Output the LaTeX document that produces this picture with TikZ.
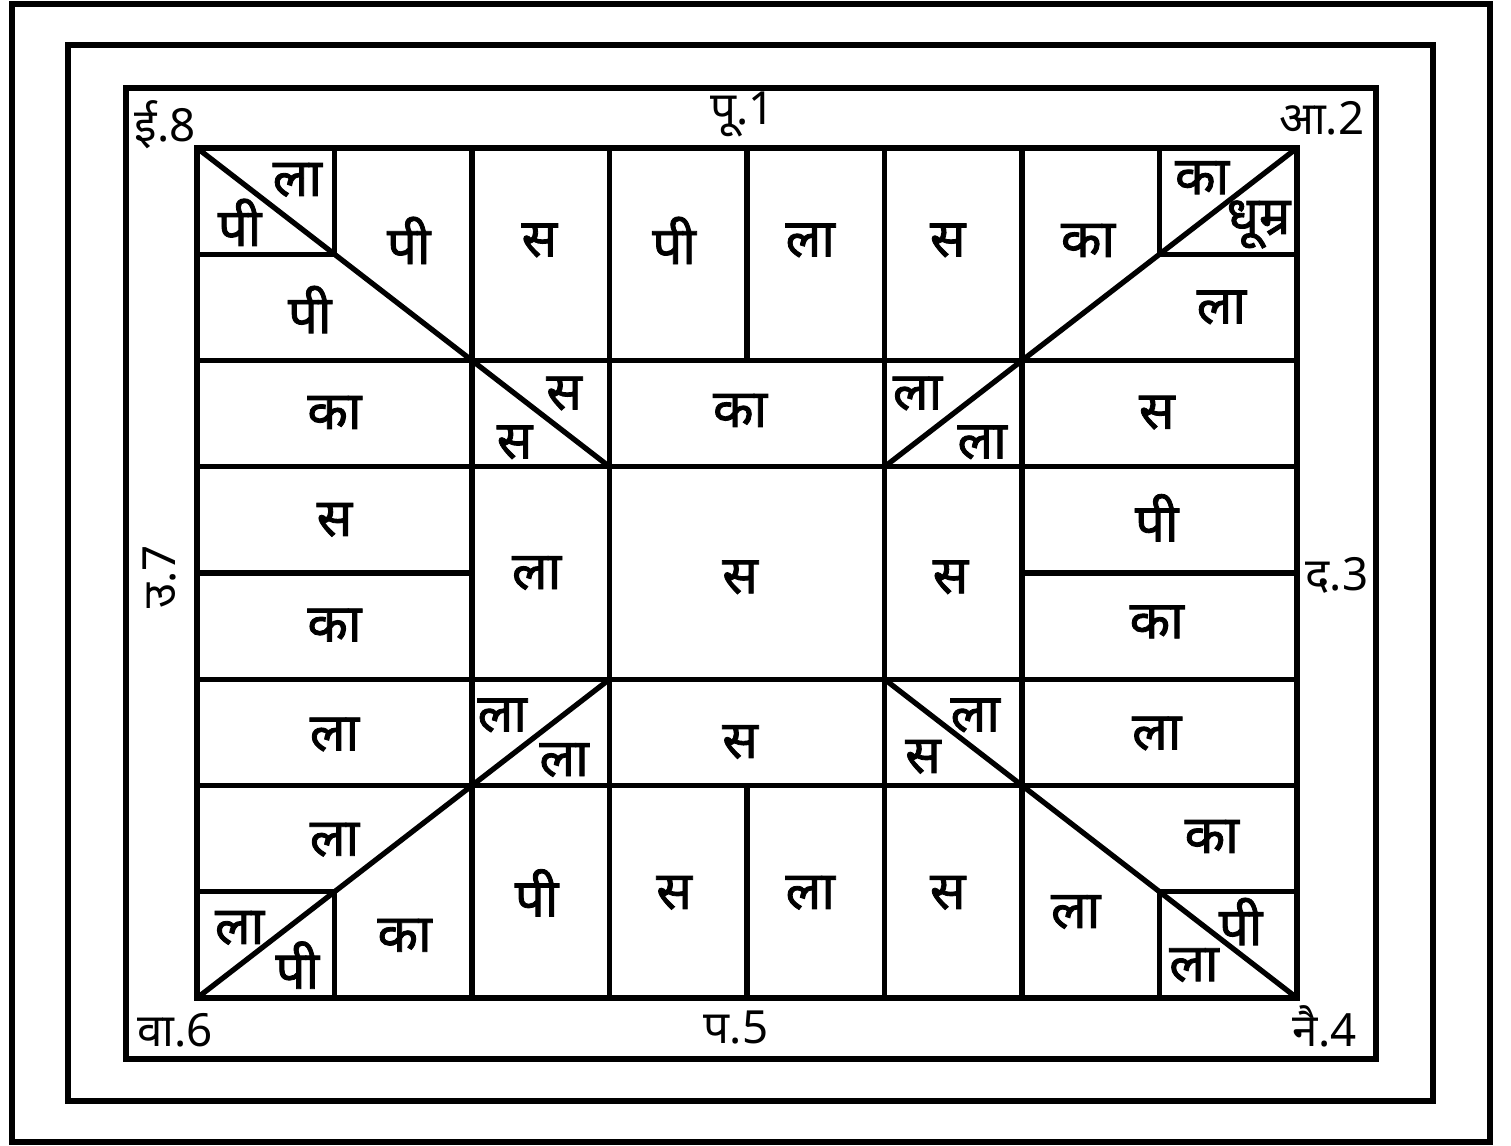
\documentclass[tikz,border=0pt]{standalone}
\usepackage{fontspec}
\newfontfamily\devfont[Script=Devanagari]{Noto Sans}
\newfontfamily\devbold[Script=Devanagari, FakeBold=1.6]{Noto Sans}

\begin{document}
\begin{tikzpicture}[
    frame/.style={line width=1.7pt},
    gridline/.style={line width=1.5pt},
    cell/.style={font=\devbold\fontsize{15}{17}\selectfont, inner sep=0pt},
    dir/.style={font=\devfont\fontsize{13}{15}\selectfont, inner sep=0pt}
  ]
  \useasboundingbox (0,0) rectangle (15.11,11.45);

  % three frames
  \draw[frame] (0.12,0.03) rectangle (14.90,11.41);
  \draw[frame] (0.68,0.44) rectangle (14.33,11.00);
  \draw[frame] (1.26,0.86) rectangle (13.76,10.57);

  \begin{scope}[shift={(1.97,1.47)}, x=1.375cm, y=1.0625cm]
    \draw[gridline] (0,0) rectangle (8,8);
    \foreach \k in {2,3,5,6} {
      \draw[gridline] (0,\k) -- (8,\k);
      \draw[gridline] (\k,0) -- (\k,8);
    }
    \foreach \a/\b in {0/1, 7/8} {
      \draw[gridline] (\a,7) -- (\b,7);
      \draw[gridline] (\a,1) -- (\b,1);
      \draw[gridline] (1,\a) -- (1,\b);
      \draw[gridline] (7,\a) -- (7,\b);
    }
    \draw[gridline] (0,4) -- (2,4) (6,4) -- (8,4);
    \draw[gridline] (4,6) -- (4,8) (4,0) -- (4,2);
    % corner diagonals
    \draw[gridline] (0,8) -- (3,5);
    \draw[gridline] (8,8) -- (5,5);
    \draw[gridline] (0,0) -- (3,3);
    \draw[gridline] (8,0) -- (5,3);

    % directions
    \node[dir] (ish)  at (-0.23,8.22) {ई.8};
    \node[dir] (purv) at (3.97,8.32) {पू.1};
    \node[dir] (agni) at (8.18,8.28) {आ.2};
    \node[dir] (dakh) at (8.29,3.98) {द.3};
    \node[dir] (nair) at (8.20,-0.27) {नै.4};
    \node[dir] (pash) at (3.92,-0.28) {प.5};
    \node[dir] (vayu) at (-0.16,-0.30) {वा.6};
    \node[dir, rotate=90] (uttr) at (-0.27,3.96) {उ.7};

    % top row
    \node[cell] (tl-a) at (0.73,7.70) {ला};
    \node[cell] (tl-b) at (0.31,7.30) {पी};
    \node[cell] (t1) at (1.54,7.13) {पी};
    \node[cell] (t2) at (2.49,7.13) {स};
    \node[cell] (t3) at (3.47,7.13) {पी};
    \node[cell] (t4) at (4.46,7.13) {ला};
    \node[cell] (t5) at (5.46,7.13) {स};
    \node[cell] (t6) at (6.48,7.13) {का};
    \node[cell] (tr-a) at (7.31,7.72) {का};
    \node[cell] (tr-b) at (7.72,7.28) {धूम्र};

    % left column
    \node[cell] (l1) at (0.82,6.48) {पी};
    \node[cell] (l2) at (1.00,5.51) {का};
    \node[cell] (l3) at (1.00,4.50) {स};
    \node[cell] (l4) at (1.00,3.51) {का};
    \node[cell] (l5) at (1.00,2.48) {ला};
    \node[cell] (l6) at (1.00,1.49) {ला};

    % right column
    \node[cell] (r1) at (7.45,6.50) {ला};
    \node[cell] (r2) at (6.98,5.51) {स};
    \node[cell] (r3) at (6.98,4.52) {पी};
    \node[cell] (r4) at (6.98,3.54) {का};
    \node[cell] (r5) at (6.98,2.49) {ला};
    \node[cell] (r6) at (7.38,1.52) {का};

    % bottom row
    \node[cell] (bl-a) at (0.31,0.66) {ला};
    \node[cell] (bl-b) at (0.73,0.31) {पी};
    \node[cell] (b1) at (1.51,0.59) {का};
    \node[cell] (b2) at (2.47,0.99) {पी};
    \node[cell] (b3) at (3.47,0.99) {स};
    \node[cell] (b4) at (4.46,0.99) {ला};
    \node[cell] (b5) at (5.46,0.99) {स};
    \node[cell] (b6) at (6.39,0.81) {ला};
    \node[cell] (br-a) at (7.59,0.72) {पी};
    \node[cell] (br-b) at (7.25,0.31) {ला};

    % inner ring
    \node[cell] (m1-a) at (2.67,5.69) {स};
    \node[cell] (m1-b) at (2.31,5.23) {स};
    \node[cell] (m2) at (3.95,5.53) {का};
    \node[cell] (m3-a) at (5.24,5.69) {ला};
    \node[cell] (m3-b) at (5.71,5.23) {ला};
    \node[cell] (m4) at (2.47,4.00) {ला};
    \node[cell] (m5) at (5.48,3.96) {स};
    \node[cell] (m6-a) at (2.22,2.66) {ला};
    \node[cell] (m6-b) at (2.67,2.24) {ला};
    \node[cell] (m7) at (3.95,2.41) {स};
    \node[cell] (m8-a) at (5.66,2.66) {ला};
    \node[cell] (m8-b) at (5.28,2.27) {स};

    % centre
    \node[cell] (ctr) at (3.95,3.96) {स};
  \end{scope}
\end{tikzpicture}
\end{document}
